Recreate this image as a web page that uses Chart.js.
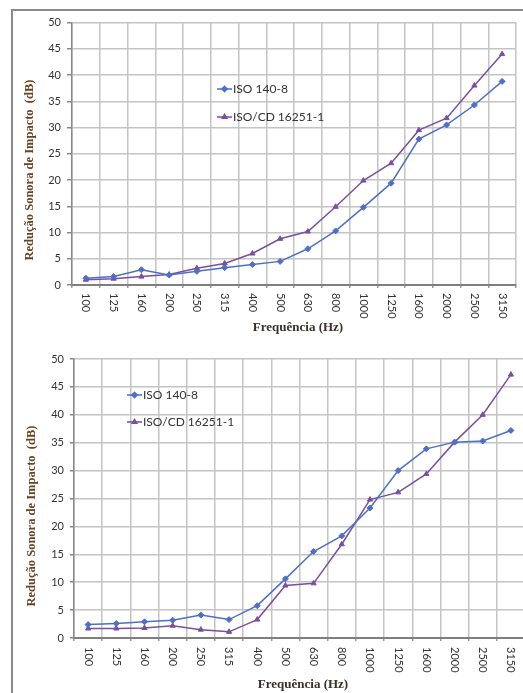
<!DOCTYPE html>
<html>
<head>
<meta charset="utf-8">
<script src="https://cdn.jsdelivr.net/npm/chart.js@4.4.1/dist/chart.umd.min.js"></script>
<style>
  html, body { margin: 0; padding: 0; background: #fff; overflow: hidden; }
  body { width: 523px; height: 693px; position: relative; }
  .frame { position: absolute; left: 11px; top: 9px; width: 520px; height: 700px;
           border-top: 2px solid #8a8a8a; border-left: 2px solid #8a8a8a; }
  .box { position: absolute; }
  #boxA { left: 12px; top: 10px; width: 511px; height: 332px; }
  #boxB { left: 12px; top: 342px; width: 518px; height: 351px; }
</style>
</head>
<body>
<div class="frame"></div>
<div class="box" id="boxA"><canvas id="chartA"></canvas></div>
<div class="box" id="boxB"><canvas id="chartB"></canvas></div>
<script>
// Third-octave band centre frequencies (Hz)
const frequencies = ['100','125','160','200','250','315','400','500','630','800','1000','1250','1600','2000','2500','3150'];
const yTicks = [0, 5, 10, 15, 20, 25, 30, 35, 40, 45, 50];

// Upper panel: impact sound reduction (dB)
const upperIso1408 = [1.3, 1.6, 2.9, 1.9, 2.6, 3.3, 3.9, 4.5, 6.9, 10.3, 14.8, 19.4, 27.8, 30.5, 34.3, 38.8];
const upperIso16251 = [1.0, 1.2, 1.6, 2.0, 3.2, 4.1, 6.0, 8.8, 10.2, 14.9, 19.9, 23.2, 29.5, 31.8, 38.0, 44.0];

// Lower panel: impact sound reduction (dB)
const lowerIso1408 = [2.4, 2.6, 2.9, 3.2, 4.1, 3.3, 5.8, 10.6, 15.5, 18.3, 23.3, 30.0, 33.9, 35.1, 35.3, 37.2];
const lowerIso16251 = [1.7, 1.7, 1.8, 2.2, 1.5, 1.1, 3.3, 9.4, 9.8, 16.8, 24.8, 26.1, 29.4, 35.1, 40.0, 47.2];

const seriesNames = ['ISO 140-8', 'ISO/CD 16251-1'];
const BLUE = '#4d6fc6';
const PURPLE = '#7a4f9e';

const TICK_FONT = '11px Lato, "Open Sans", sans-serif';
const LEGEND_FONT = '12px Lato, "Open Sans", sans-serif';
const TITLE_FONT = 'bold 12.5px "Liberation Serif", "DejaVu Serif", serif';
const XTITLE_FONT = 'bold 13px "Liberation Serif", "DejaVu Serif", serif';

// Draws the rotated frequency labels, both axis titles and the in-plot legend
const decorPlugin = {
  id: 'decor',
  afterDraw(chart, args, opts) {
    const ctx = chart.ctx;
    const xs = chart.scales.x;
    const area = chart.chartArea;
    ctx.save();
    // category labels, turned clockwise
    ctx.font = TICK_FONT;
    ctx.fillStyle = '#333';
    ctx.textAlign = 'left';
    ctx.textBaseline = 'middle';
    chart.data.labels.forEach((lab, i) => {
      const x = xs.getPixelForValue(i);
      ctx.save();
      ctx.translate(x, area.bottom + opts.labelGap);
      ctx.rotate(Math.PI / 2);
      ctx.fillText(lab, 0, 0);
      ctx.restore();
    });
    // x title
    ctx.font = XTITLE_FONT;
    ctx.fillStyle = '#3b3026';
    ctx.textAlign = 'center';
    ctx.textBaseline = 'middle';
    ctx.fillText('Frequência (Hz)', opts.xTitle[0], opts.xTitle[1]);
    // y title
    ctx.save();
    ctx.font = TITLE_FONT;
    ctx.fillStyle = '#6a4322';
    ctx.translate(opts.yTitle[0], opts.yTitle[1]);
    ctx.rotate(-Math.PI / 2);
    ctx.fillText('Redução Sonora de Impacto  (dB)', 0, 0);
    ctx.restore();
    // legend
    ctx.font = LEGEND_FONT;
    ctx.textAlign = 'left';
    chart.data.datasets.forEach((ds, i) => {
      const lx = opts.legend[0];
      const ly = opts.legend[1] + i * opts.legend[2];
      ctx.strokeStyle = ds.borderColor;
      ctx.lineWidth = 1.5;
      ctx.beginPath();
      ctx.moveTo(lx, ly);
      ctx.lineTo(lx + 15, ly);
      ctx.stroke();
      Chart.helpers.drawPoint(ctx, {pointStyle: ds.pointStyle, radius: 2.6, borderWidth: 1}, lx + 7.5, ly);
      ctx.fillStyle = ds.borderColor;
      ctx.fill();
      ctx.fillStyle = '#333';
      ctx.fillText(ds.label, lx + 16, ly + 0.5);
    });
    ctx.restore();
  }
};

function makeChart(id, seriesA, seriesB, geo) {
  const ds = (label, data, color, style) => ({
    label, data,
    borderColor: color, backgroundColor: color,
    borderWidth: 1.5, pointStyle: style, pointRadius: 3, pointBorderWidth: 1,
    tension: 0, fill: false
  });
  return new Chart(document.getElementById(id), {
    type: 'line',
    data: {
      labels: frequencies,
      datasets: [
        ds(seriesNames[0], seriesA, BLUE, 'rectRot'),
        ds(seriesNames[1], seriesB, PURPLE, 'triangle')
      ]
    },
    options: {
      responsive: true,
      maintainAspectRatio: false,
      animation: false,
      devicePixelRatio: 1,
      layout: { padding: { left: 0, right: geo.padRight, top: geo.padTop, bottom: 0 } },
      plugins: {
        legend: { display: false },
        tooltip: { enabled: false },
        decor: geo.decor
      },
      scales: {
        x: {
          type: 'category',
          offset: true,
          grid: { offset: true, color: '#c4c4c4', lineWidth: 1.5, tickLength: 3, tickColor: '#999' },
          border: { color: '#7f7f7f', width: 2 },
          ticks: { display: false },
          afterFit(s) { s.height = geo.xHeight; }
        },
        y: {
          min: 0, max: 50,
          afterBuildTicks(s) { s.ticks = yTicks.map(v => ({ value: v })); },
          grid: { color: '#c4c4c4', lineWidth: 1.5, tickLength: geo.tickLen, tickColor: '#888' },
          border: { color: '#8a8a8a', width: 1.5 },
          ticks: { font: { family: 'Lato, "Open Sans", sans-serif', size: 11 }, color: '#333', padding: 6 },
          afterFit(s) { s.width = geo.yWidth; }
        }
      }
    },
    plugins: [decorPlugin]
  });
}

makeChart('chartA', upperIso1408, upperIso16251, {
  padRight: 7, padTop: 9, xHeight: 57, yWidth: 60, tickLen: 5,
  decor: { labelGap: 8, xTitle: [286, 318], yTitle: [18, 160], legend: [205, 79, 28] }
});

makeChart('chartB', lowerIso1408, lowerIso16251, {
  padRight: 3, padTop: 17, xHeight: 55, yWidth: 62, tickLen: 4,
  decor: { labelGap: 9, xTitle: [291, 343], yTitle: [20, 174], legend: [115, 53, 27] }
});
</script>
</body>
</html>
